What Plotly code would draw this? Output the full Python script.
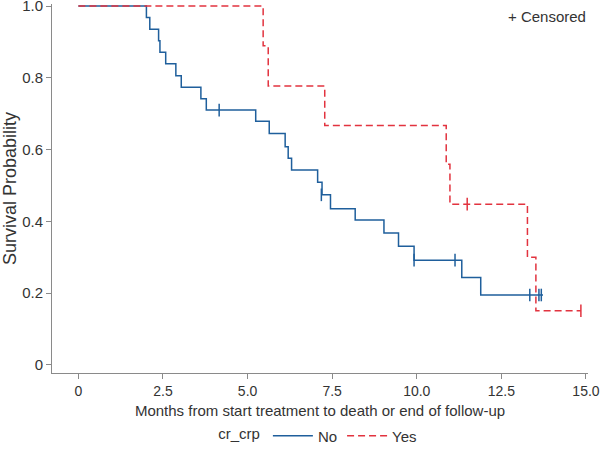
import plotly.graph_objects as go

# Kaplan-Meier step data
no_times = [0, 2.01, 2.11, 2.37, 2.41, 2.58, 2.88, 3.04, 3.62, 3.78, 5.24, 5.64, 6.11, 6.20, 6.30,
            7.07, 7.20, 7.45, 8.18, 9.03, 9.46, 9.92, 11.33, 11.89, 13.73]
no_surv = [1.0, 0.968, 0.935, 0.903, 0.871, 0.839, 0.806, 0.774, 0.742, 0.710, 0.679, 0.645, 0.608,
           0.576, 0.543, 0.509, 0.474, 0.435, 0.404, 0.368, 0.331, 0.292, 0.244, 0.195, 0.195]
no_cens_t = [4.16, 7.18, 9.92, 11.13, 13.34, 13.61, 13.68]
no_cens_s = [0.710, 0.474, 0.292, 0.292, 0.195, 0.195, 0.195]

yes_times = [0, 5.46, 5.61, 7.28, 10.87, 10.98, 13.27, 13.52, 14.85]
yes_surv = [1.0, 0.889, 0.777, 0.667, 0.559, 0.448, 0.300, 0.151, 0.151]
yes_cens_t = [11.49, 14.85]
yes_cens_s = [0.448, 0.151]

x_ticks = [0, 2.5, 5, 7.5, 10, 12.5, 15]
x_ticklabels = ["0", "2.5", "5.0", "7.5", "10.0", "12.5", "15.0"]
y_ticks = [0, 0.2, 0.4, 0.6, 0.8, 1.0]
y_ticklabels = ["0", "0.2", "0.4", "0.6", "0.8", "1.0"]

BLUE = "#1f5f9c"
RED = "#e2333f"
AXIS = "#8a8a8a"
TEXT = "#333333"
FONT = "Liberation Sans, Arial, sans-serif"
NARROW = "Liberation Sans Narrow, Arial Narrow, Liberation Sans, sans-serif"

fig = go.Figure()
fig.add_trace(go.Scatter(x=no_times, y=no_surv, mode="lines", name="No",
                         line=dict(color=BLUE, width=1.5, shape="hv"), cliponaxis=False))
fig.add_trace(go.Scatter(x=yes_times, y=yes_surv, mode="lines", name="Yes",
                         line=dict(color=RED, width=1.5, shape="hv", dash="7px,4px"), cliponaxis=False))
fig.add_trace(go.Scatter(x=no_cens_t, y=no_cens_s, mode="markers", showlegend=False,
                         marker=dict(symbol="line-ns", size=9, line=dict(color=BLUE, width=1.5)),
                         cliponaxis=False))
fig.add_trace(go.Scatter(x=yes_cens_t, y=yes_cens_s, mode="markers", showlegend=False,
                         marker=dict(symbol="line-ns", size=9, line=dict(color=RED, width=1.5)),
                         cliponaxis=False))

fig.add_annotation(text="+ Censored", xref="paper", yref="paper", x=1.0, y=0.965,
                   xanchor="right", yanchor="middle", showarrow=False,
                   font=dict(family=FONT, size=15, color=TEXT))

fig.update_layout(
    width=600, height=449,
    margin=dict(l=52, r=12, t=4, b=76, autoexpand=False),
    paper_bgcolor="white", plot_bgcolor="white",
    font=dict(family=FONT, size=15, color=TEXT),
    showlegend=True,
    legend=dict(orientation="h", xref="container", x=0.532, xanchor="center",
                yref="container", y=0.029, yanchor="middle",
                title=dict(text="cr_crp", side="left", font=dict(family=NARROW, size=15)),
                font=dict(family=FONT, size=15, color=TEXT),
                itemwidth=40, tracegroupgap=0),
    xaxis=dict(range=[-0.78, 15.06], tickvals=x_ticks, ticktext=x_ticklabels,
               showgrid=False, zeroline=False, showline=True, linecolor=AXIS, linewidth=1,
               ticks="outside", ticklen=5, tickcolor=AXIS, automargin=False,
               ticklabeloverflow="allow",
               title=dict(text="Months from start treatment to death or end of follow-up", standoff=10,
                          font=dict(family=NARROW, size=15, color=TEXT)),
               tickfont=dict(size=14, color=TEXT)),
    yaxis=dict(range=[-0.0223, 1.0056], tickvals=y_ticks, ticktext=y_ticklabels,
               showgrid=False, zeroline=False, showline=True, linecolor=AXIS, linewidth=1,
               ticks="outside", ticklen=5, tickcolor=AXIS, automargin=False,
               ticklabeloverflow="allow",
               title=dict(text="Survival Probability", standoff=6),
               tickfont=dict(size=15, color=TEXT)),
)

fig.write_html("out.html", config={"displayModeBar": False},
               post_script="document.body.style.margin='0';document.body.style.padding='0';")
